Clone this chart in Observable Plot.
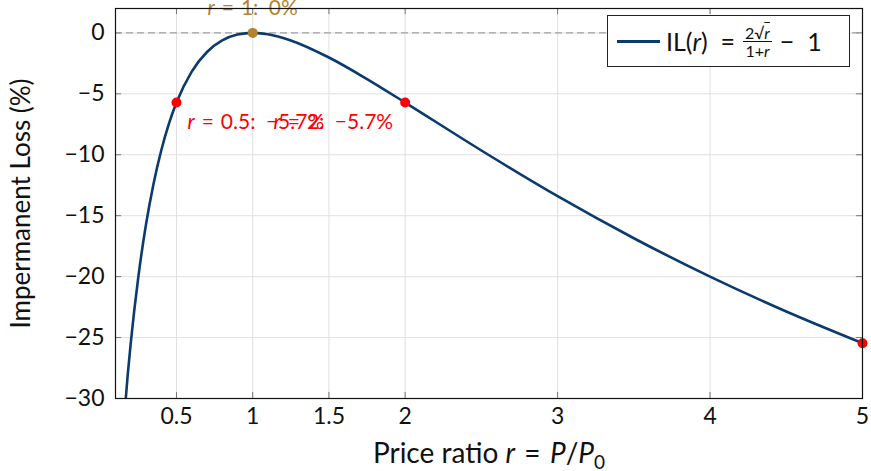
<!DOCTYPE html>
<html>
<head>
<meta charset="utf-8">
<script src="https://cdn.jsdelivr.net/npm/d3@7"></script>
<script src="https://cdn.jsdelivr.net/npm/@observablehq/plot@0.6"></script>
<style>
  html, body { margin: 0; padding: 0; background: #fff; overflow: hidden; }
  #wrap { position: relative; width: 871px; height: 471px; font-family: Lato, "DejaVu Sans", sans-serif; }
  #legend {
    position: absolute; left: 607px; top: 15px; width: 243px; height: 52px;
    border: 1px solid #222; background: #fff; display: flex; align-items: center;
    font-size: 25px; color: #111; box-sizing: border-box; white-space: nowrap;
  }
  #legend .sw { width: 43px; height: 3px; background: #0b3a6e; margin: 0 6px 0 9px; flex: none; }
  .frac { display: inline-flex; flex-direction: column; align-items: center; font-size: 16px; line-height: 17px; margin: 0 8px; }
  .frac .num { border-bottom: 1px solid #111; padding: 0 2px; }
  .sq { text-decoration: overline; }
</style>
</head>
<body>
<div id="wrap"><div id="chart"></div>
<div id="legend"><span class="sw"></span><span>IL(<i>r</i>)&nbsp;&nbsp;=</span><span class="frac"><span class="num">2√<span class="sq"><i>r</i></span></span><span>1+<i>r</i></span></span><span>−&nbsp;&nbsp;1</span></div>
</div>
<script>
// Sampled curve: price ratio r and impermanent loss (%)
const rValues = [0.1, 0.12, 0.15, 0.18, 0.2, 0.25, 0.3, 0.35, 0.4, 0.45, 0.5, 0.6, 0.7, 0.8, 0.9, 1.0, 1.1, 1.25, 1.5, 1.75, 2, 2.5, 3, 3.5, 4, 4.5, 5];
const ilValues = [-42.50, -38.14, -32.64, -28.09, -25.46, -20.00, -15.73, -12.35, -9.65, -7.47, -5.72, -3.18, -1.57, -0.62, -0.14, 0, -0.11, -0.62, -2.02, -3.79, -5.72, -9.65, -13.40, -16.85, -20.00, -22.86, -25.46];

// Highlighted points
const markR = [0.5, 1, 2, 5];
const markIL = [-5.72, 0, -5.72, -25.46];
const markColor = ["#ff0000", "#b5822c", "#ff0000", "#ff0000"];

const xTicks = [0.5, 1, 1.5, 2, 3, 4, 5];
const yTicks = [0, -5, -10, -15, -20, -25, -30];
const xDomain = [0.1, 5];
const yDomain = [-30, 2];

const curve = rValues.map((r, i) => ({r, il: ilValues[i]}));
const pts = markR.map((r, i) => ({r, il: markIL[i], c: markColor[i]}));
const fmt = d3.format("");

const S = "\u2004", E = "\u2002";
const labels = [
  {r: 0.5, il: -5.72, text: "r" + S + "=" + S + "0.5:" + E + "−5.7%", anchor: "start", dx: 11, dy: 20, c: "#ff0000"},
  {r: 2, il: -5.72, text: "r" + S + "=" + S + "2:" + E + "−5.7%", anchor: "end", dx: -12, dy: 20, c: "#ff0000"},
  {r: 1, il: 0, text: "r" + S + "=" + S + "1:" + E + "0%", anchor: "middle", dx: 0, dy: -25, c: "#b5822c"}
];

const chart = Plot.plot({
  width: 871,
  height: 471,
  marginLeft: 115,
  marginRight: 9,
  marginTop: 8,
  marginBottom: 73,
  style: {fontFamily: "Lato, 'DejaVu Sans', sans-serif", fontSize: "23px", color: "#111", overflow: "visible"},
  x: {domain: xDomain, ticks: xTicks, tickFormat: fmt, tickSize: 0, tickPadding: 9, label: "Price ratio r = P/P0", labelAnchor: "center", labelOffset: 64, labelArrow: "none"},
  y: {domain: yDomain, ticks: yTicks, tickFormat: fmt, tickSize: 0, tickPadding: 11, label: "Impermanent Loss (%)", labelAnchor: "center", labelOffset: 104, labelArrow: "none"},
  marks: [
    Plot.gridX(xTicks, {stroke: "#e0e0e0", strokeOpacity: 1, strokeWidth: 1}),
    Plot.gridY(yTicks, {stroke: "#e0e0e0", strokeOpacity: 1, strokeWidth: 1}),
    Plot.ruleX(xTicks, {y1: yDomain[0], y2: yDomain[0] + 0.5, stroke: "#777", strokeWidth: 1}),
    Plot.ruleX(xTicks, {y1: yDomain[1], y2: yDomain[1] - 0.5, stroke: "#777", strokeWidth: 1}),
    Plot.ruleY(yTicks, {x1: xDomain[0], x2: xDomain[0] + 0.04, stroke: "#777", strokeWidth: 1}),
    Plot.ruleY(yTicks, {x1: xDomain[1], x2: xDomain[1] - 0.04, stroke: "#777", strokeWidth: 1}),
    Plot.ruleY([0], {stroke: "#a0a0a0", strokeWidth: 1.3, strokeDasharray: "7,4"}),
    Plot.line(curve, {x: "r", y: "il", stroke: "#0b3a6e", strokeWidth: 2.6, curve: "monotone-x", clip: true}),
    Plot.dot(pts, {x: "r", y: "il", fill: d => d.c, r: 5, stroke: "none"}),
    ...labels.map(l => Plot.text([l], {x: "r", y: "il", text: "text", textAnchor: l.anchor, dx: l.dx, dy: l.dy, fill: l.c, fontSize: 21})),
    Plot.frame({stroke: "#111", strokeWidth: 1.2})
  ]
});
document.getElementById("chart").appendChild(chart);

// Italicize the variable r / P in labels
const svg = d3.select(chart);
svg.selectAll("text").each(function() {
  const t = d3.select(this);
  const tx = t.text();
  if (tx.startsWith("r" + S)) {
    t.text("");
    t.append("tspan").attr("font-style", "italic").text("r");
    t.append("tspan").text(tx.slice(1));
  }
});
svg.selectAll("g[aria-label='x-axis label'] text").attr("font-size", 28);
svg.selectAll("g[aria-label='y-axis label'] text").attr("font-size", 26);
svg.selectAll("g[aria-label='x-axis label'] text").each(function() {
  const t = d3.select(this);
  t.text("");
  t.append("tspan").text("Price ratio ");
  t.append("tspan").attr("font-style", "italic").text("r");
  t.append("tspan").text(S + "=" + S);
  t.append("tspan").attr("font-style", "italic").text("P");
  t.append("tspan").text("/");
  t.append("tspan").attr("font-style", "italic").text("P");
  t.append("tspan").attr("font-size", 19).attr("dy", 6).text("0");
});
</script>
</body>
</html>
